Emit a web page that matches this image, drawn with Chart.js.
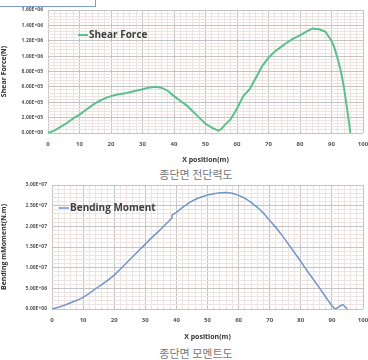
<!DOCTYPE html>
<html>
<head>
<meta charset="utf-8">
<script src="https://cdn.jsdelivr.net/npm/chart.js@4"></script>
<style>
  html, body { margin: 0; padding: 0; background: #fff; }
  body { width: 368px; height: 360px; position: relative; overflow: hidden; }
  canvas { position: absolute; left: 0; }
  #shearChart { top: 0; }
  #momentChart { top: 175px; }
  .caption {
    position: absolute; left: 0; width: 368px; text-align: center;
    font-family: "Noto Sans CJK KR", sans-serif; font-size: 11px; color: #777;
    padding-left: 24px; box-sizing: border-box;
  }
  .topbox {
    position: absolute; left: -2px; top: -10px; width: 96px; height: 15px;
    border: 1px solid #7d9dd0; background: #fff;
  }
</style>
</head>
<body>
<div class="topbox"></div>
<canvas id="shearChart" width="368" height="164"></canvas>
<div class="caption" style="top:166px">종단면 전단력도</div>
<canvas id="momentChart" width="368" height="166"></canvas>
<div class="caption" style="top:345px">종단면 모멘트도</div>
<script>
/* Longitudinal shear force and bending moment diagrams */

// ----- Data -----
const shearX = [0, 2, 4, 6, 8, 10, 12, 14, 16, 18, 20, 22, 25, 28, 30, 32, 34, 36, 38, 40,
  42, 44, 46, 48, 50, 52, 54, 55, 56, 58, 60, 62, 64, 66, 68, 70, 72, 74, 76, 78,
  80, 82, 84, 86, 88, 90, 91, 92, 93, 94, 95, 96];
const shearForce = [0, 30000, 80000, 130000, 190000, 240000, 300000, 360000, 410000, 450000,
  480000, 500000, 520000, 550000, 570000, 590000, 600000, 590000, 550000, 480000,
  420000, 360000, 280000, 200000, 120000, 70000, 30000, 50000, 100000, 180000,
  320000, 480000, 570000, 720000, 870000, 980000, 1060000, 1120000, 1180000, 1230000,
  1270000, 1320000, 1360000, 1350000, 1320000, 1200000, 1100000, 960000, 800000, 580000,
  300000, 0];

const momentX = [0, 2, 4, 6, 8, 10, 12, 14, 16, 18, 20, 22, 24, 26, 28, 30, 32, 34, 36, 38,
  38.5, 38.7, 40, 42, 44, 46, 48, 50, 52, 54, 56, 58, 60, 62, 64, 66, 68, 70, 72, 74,
  76, 78, 80, 82, 84, 86, 88, 90, 91, 92, 93, 93.6, 94.3, 95];
const bendingMoment = [0, 400000, 900000, 1500000, 2100000, 2800000, 3800000, 4900000, 5900000, 7000000,
  8200000, 9700000, 11200000, 12700000, 14200000, 15700000, 17200000, 18600000, 20100000, 21600000,
  21900000, 22800000, 23400000, 24600000, 25700000, 26500000, 27100000, 27600000, 27900000, 28100000,
  28200000, 28000000, 27500000, 26800000, 25800000, 24600000, 23200000, 21400000, 19700000, 17800000,
  15700000, 13600000, 11500000, 9300000, 7200000, 5100000, 2900000, 800000, 0, 400000,
  900000, 1000000, 500000, 0];

const xMajor = [0, 10, 20, 30, 40, 50, 60, 70, 80, 90, 100];
const shearMajor = [0, 200000, 400000, 600000, 800000, 1000000, 1200000, 1400000, 1600000];
const shearLabels = ["0.00E+00", "2.00E+05", "4.00E+05", "6.00E+05", "8.00E+05",
  "1.00E+06", "1.20E+06", "1.40E+06", "1.60E+06"];
const momentMajor = [0, 5000000, 10000000, 15000000, 20000000, 25000000, 30000000];
const momentLabels = ["0.00E+00", "5.00E+06", "1.00E+07", "1.50E+07", "2.00E+07",
  "2.50E+07", "3.00E+07"];

// ----- Helpers -----
const FONT = "'Open Sans', 'Liberation Sans', sans-serif";
const majorColor = "#c4c4c4";
const minorColor = "#eee3e3";

function majorIndex(list, v) {
  return list.findIndex((m) => Math.abs(m - v) < 1e-6 * Math.max(1, Math.abs(m)));
}

function toPoints(xs, ys) {
  return xs.map((x, i) => ({ x, y: ys[i] }));
}

const insideLegend = {
  id: "insideLegend",
  afterDraw(chart, args, opts) {
    const { ctx, chartArea } = chart;
    const ds = chart.data.datasets[0];
    const y = chartArea.top + opts.dy;
    const x = chartArea.left + opts.dx;
    ctx.save();
    ctx.strokeStyle = ds.borderColor;
    ctx.lineWidth = ds.borderWidth;
    ctx.beginPath();
    ctx.moveTo(x, y);
    ctx.lineTo(x + 10, y);
    ctx.stroke();
    ctx.fillStyle = "#404040";
    ctx.font = "bold 10px " + FONT;
    ctx.textBaseline = "middle";
    ctx.fillText(ds.label, x + 11, y);
    ctx.restore();
  },
};

function makeChart(id, cfg) {
  return new Chart(document.getElementById(id), {
    type: "line",
    data: {
      datasets: [{
        label: cfg.label,
        data: toPoints(cfg.xs, cfg.ys),
        borderColor: cfg.color,
        borderWidth: cfg.width,
        pointRadius: 0,
        tension: 0,
        fill: false,
      }],
    },
    options: {
      responsive: false,
      animation: false,
      events: [],
      layout: { padding: { top: cfg.padTop, right: 5, left: 0, bottom: 0 } },
      plugins: {
        legend: { display: false },
        tooltip: { enabled: false },
        insideLegend: cfg.legend,
      },
      scales: {
        x: {
          type: "linear",
          min: 0,
          max: 100,
          border: { display: false },
          grid: {
            drawTicks: false,
            color: (c) => (majorIndex(xMajor, c.tick.value) >= 0 ? majorColor : minorColor),
          },
          ticks: {
            stepSize: 2,
            autoSkip: false,
            maxRotation: 0,
            maxTicksLimit: 200,
            padding: 8,
            color: "#555",
            font: { family: FONT, size: 6, weight: "bold" },
            callback: (v) => (majorIndex(xMajor, v) >= 0 ? String(v) : ""),
          },
          title: {
            display: true,
            text: "X position(m)",
            color: "#333",
            padding: { top: 2, bottom: 0 },
            font: { family: FONT, size: 7, weight: "bold" },
          },
          afterFit: (axis) => {
            axis.height = cfg.xAxisHeight;
            axis.paddingRight = 0;
            axis.paddingLeft = 0;
          },
        },
        y: {
          min: 0,
          max: cfg.yMax,
          border: { display: false },
          grid: {
            drawTicks: false,
            color: (c) => (majorIndex(cfg.major, c.tick.value) >= 0 ? majorColor : minorColor),
          },
          ticks: {
            stepSize: cfg.minorStep,
            autoSkip: false,
            maxTicksLimit: 200,
            padding: 5,
            color: "#555",
            font: { family: FONT, size: 5, weight: "bold" },
            callback: (v) => {
              const i = majorIndex(cfg.major, v);
              return i >= 0 ? cfg.labels[i] : "";
            },
          },
          title: {
            display: true,
            text: cfg.yTitle,
            color: "#333",
            padding: { top: 0, bottom: 2 },
            font: { family: FONT, size: 7, weight: "bold" },
          },
          afterFit: (axis) => { axis.width = cfg.yAxisWidth; },
        },
      },
    },
    plugins: [insideLegend],
  });
}

document.addEventListener("DOMContentLoaded", () => {
  makeChart("shearChart", {
    label: "Shear Force",
    xs: shearX,
    ys: shearForce,
    color: "#5cbf8e",
    width: 2,
    yMax: 1600000,
    minorStep: 40000,
    major: shearMajor,
    labels: shearLabels,
    yTitle: "Shear Force(N)",
    padTop: 10,
    xAxisHeight: 31,
    yAxisWidth: 48,
    legend: { dx: 30, dy: 25 },
  });

  makeChart("momentChart", {
    label: "Bending Moment",
    xs: momentX,
    ys: bendingMoment,
    color: "#7196c8",
    width: 1.5,
    yMax: 30000000,
    minorStep: 1000000,
    major: momentMajor,
    labels: momentLabels,
    yTitle: "Bending mMoment(N.m)",
    padTop: 10,
    xAxisHeight: 32,
    yAxisWidth: 52,
    legend: { dx: 7, dy: 23 },
  });
});
</script>
</body>
</html>
